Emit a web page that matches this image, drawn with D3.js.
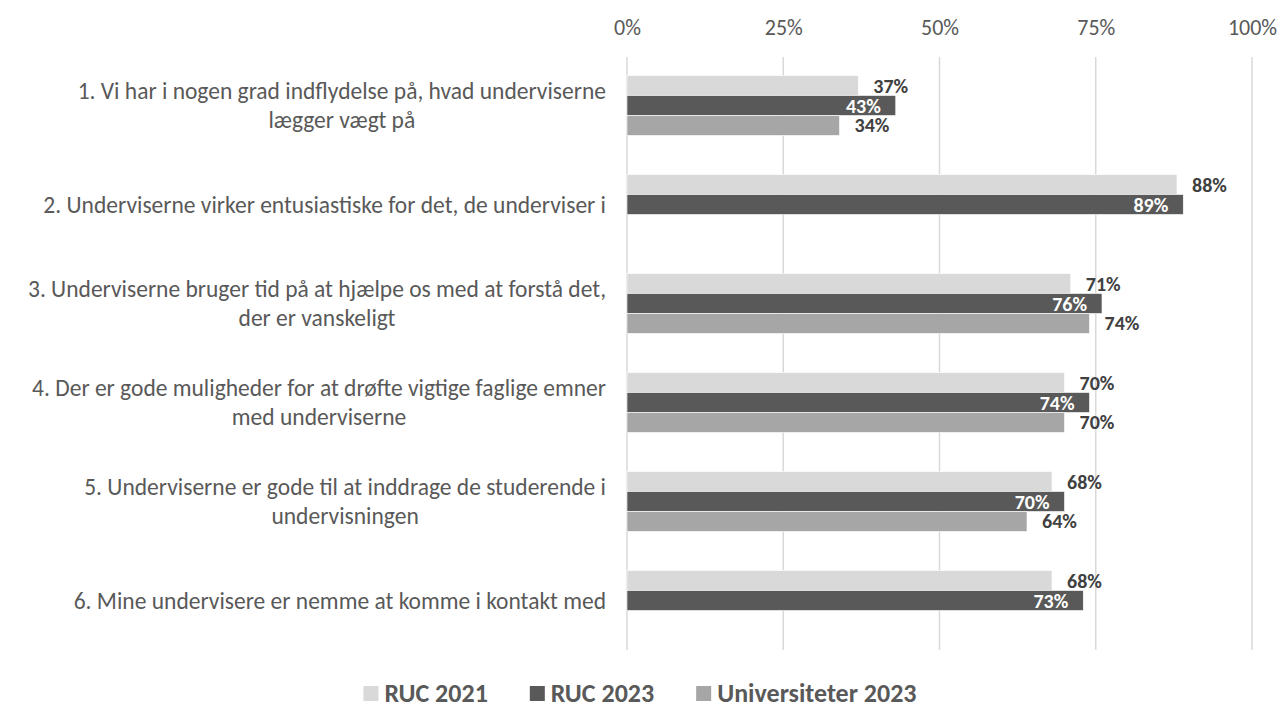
<!DOCTYPE html>
<html>
<head>
<meta charset="utf-8">
<script src="https://cdn.jsdelivr.net/npm/d3@7"></script>
<style>
  html, body { margin: 0; padding: 0; background: #fff; }
  svg { display: block; font-family: Carlito, Calibri, Lato, "Open Sans", sans-serif; }
</style>
</head>
<body>
<svg id="chart" width="1280" height="711"></svg>
<script>
const categories = [
  ["1. Vi har i nogen grad indflydelse på, hvad underviserne", "lægger vægt på"],
  ["2. Underviserne virker entusiastiske for det, de underviser i"],
  ["3. Underviserne bruger tid på at hjælpe os med at forstå det,", "der er vanskeligt"],
  ["4. Der er gode muligheder for at drøfte vigtige faglige emner", "med underviserne"],
  ["5. Underviserne er gode til at inddrage de studerende i", "undervisningen"],
  ["6. Mine undervisere er nemme at komme i kontakt med"]
];
const seriesNames = ["RUC 2021", "RUC 2023", "Universiteter 2023"];
const ruc2021 = [37, 88, 71, 70, 68, 68];
const ruc2023 = [43, 89, 76, 74, 70, 73];
const uni2023 = [34, null, 74, 70, 64, null];
const xTicks = [0, 25, 50, 75, 100];
const colors = ["#d9d9d9", "#595959", "#a6a6a6"];
const labelColors = ["#404040", "#ffffff", "#404040"];

const seriesValues = [ruc2021, ruc2023, uni2023];
const svg = d3.select("#chart");

const x = d3.scaleLinear().domain([0, 100]).range([627, 1252]);
const catIdx = categories.map((d, i) => i);
const y = d3.scaleBand().domain(catIdx).range([56, 650]).paddingInner(0.394).paddingOuter(0.197);
const ys = d3.scaleBand().domain([0, 1, 2]).range([0, y.bandwidth()]);

// gridlines
svg.append("g").selectAll("line").data(xTicks).join("line")
  .attr("x1", d => x(d)).attr("x2", d => x(d))
  .attr("y1", 57).attr("y2", 650)
  .attr("stroke", "#d9d9d9").attr("stroke-width", 1.5);

// top axis
const axis = d3.axisTop(x).tickValues(xTicks).tickFormat(d => d + "%").tickSize(0).tickPadding(0);
const ax = svg.append("g").attr("transform", "translate(0,35)").call(axis);
ax.select(".domain").remove();
ax.selectAll("text").attr("font-size", 22).attr("fill", "#595959")
  .attr("font-family", "Carlito, Calibri, Lato, sans-serif");

// bars
seriesValues.forEach((vals, s) => {
  const g = svg.append("g");
  const data = vals.map((v, i) => ({ v, i })).filter(d => d.v !== null);
  g.selectAll("rect").data(data).join("rect")
    .attr("x", x(0))
    .attr("y", d => y(d.i) + ys(s))
    .attr("width", d => x(d.v) - x(0))
    .attr("height", ys.bandwidth())
    .attr("fill", colors[s])
    .attr("stroke", "#ffffff").attr("stroke-width", 0.6);
  g.selectAll("text").data(data).join("text")
    .attr("x", d => s === 1 ? x(d.v) - 15 : x(d.v) + 15)
    .attr("y", d => y(d.i) + ys(s) + ys.bandwidth() / 2)
    .attr("dy", "0.35em")
    .attr("text-anchor", s === 1 ? "end" : "start")
    .attr("font-size", 20).attr("font-weight", "bold")
    .attr("fill", labelColors[s])
    .text(d => d.v + "%");
});

// category labels
const lineH = 29;
const catG = svg.append("g");
categories.forEach((lines, i) => {
  const cy = y(i) + y.bandwidth() / 2;
  const grp = catG.append("g");
  const texts = lines.map((ln, k) => grp.append("text")
    .attr("y", cy + (k - (lines.length - 1) / 2) * lineH)
    .attr("dy", "0.35em")
    .attr("text-anchor", "middle")
    .attr("font-size", 23.5).attr("fill", "#595959")
    .text(ln));
  const maxW = d3.max(texts, t => t.node().getComputedTextLength());
  const cx = 606 - maxW / 2;
  texts.forEach(t => t.attr("x", cx));
});

// legend
const lg = svg.append("g");
let lx = 0;
const gap = 42;
seriesNames.forEach((name, s) => {
  const it = lg.append("g").attr("transform", `translate(${lx},0)`);
  it.append("rect").attr("x", 0).attr("y", -7).attr("width", 15).attr("height", 15).attr("fill", colors[s]);
  const t = it.append("text").attr("x", 21).attr("y", 0).attr("dy", "0.36em")
    .attr("font-size", 26).attr("font-weight", "bold").attr("fill", "#595959").text(name);
  lx += 21 + t.node().getComputedTextLength() + gap;
});
const totalW = lx - gap;
lg.attr("transform", `translate(${640 - totalW / 2},693)`);
</script>
</body>
</html>
